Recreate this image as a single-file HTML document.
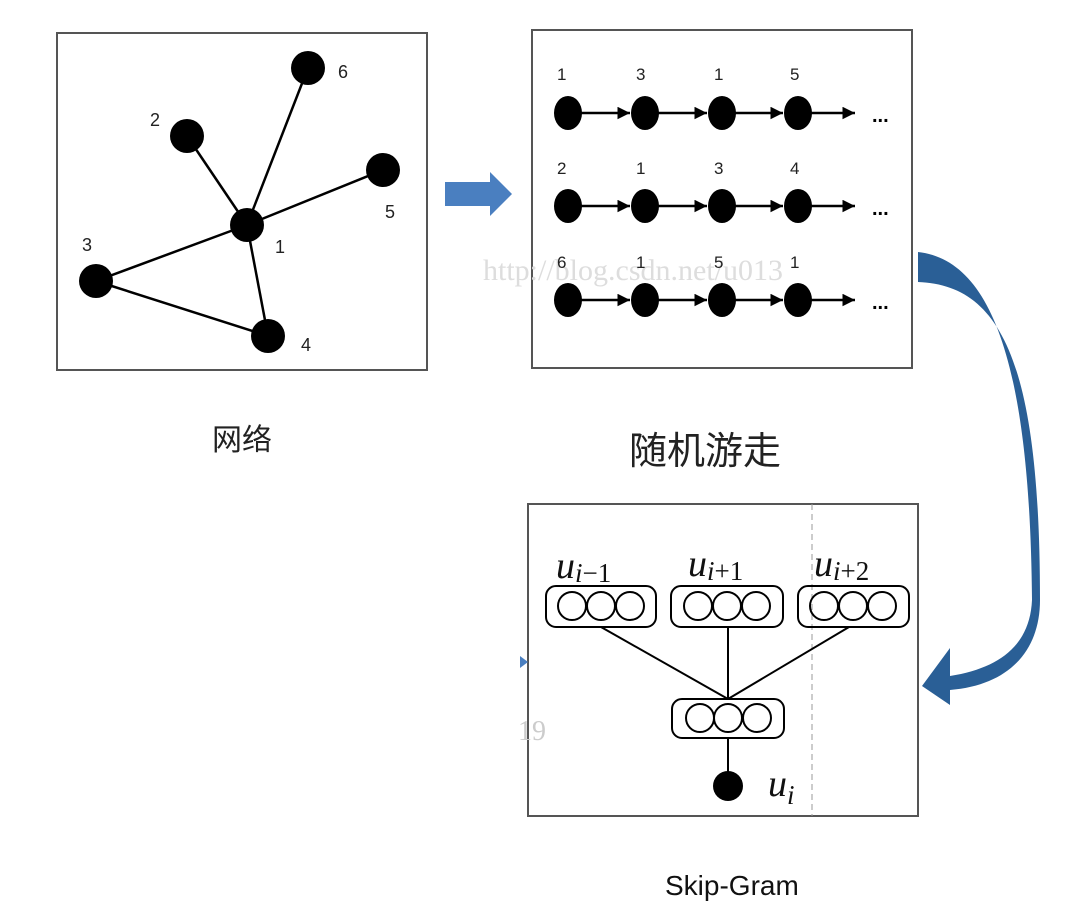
<!DOCTYPE html>
<html><head><meta charset="utf-8"><style>body{margin:0;background:#fff}svg{display:block}</style></head><body>
<svg width="1080" height="909" viewBox="0 0 1080 909" xmlns="http://www.w3.org/2000/svg" font-family="Liberation Sans, sans-serif">
<defs><marker id="a" viewBox="0 0 10 10" refX="10" refY="5" markerWidth="5" markerHeight="5" orient="auto"><path d="M0,0L10,5L0,10z" fill="#000"/></marker></defs>
<rect x="57" y="33" width="370" height="337" fill="none" stroke="#555" stroke-width="2"/>
<g stroke="#000" stroke-width="2.5">
<line x1="247" y1="225" x2="308" y2="68"/><line x1="247" y1="225" x2="187" y2="136"/><line x1="247" y1="225" x2="383" y2="170"/><line x1="247" y1="225" x2="96" y2="281"/><line x1="247" y1="225" x2="268" y2="336"/><line x1="96" y1="281" x2="268" y2="336"/></g>
<g fill="#000"><circle cx="308" cy="68" r="17"/><circle cx="187" cy="136" r="17"/><circle cx="383" cy="170" r="17"/><circle cx="247" cy="225" r="17"/><circle cx="96" cy="281" r="17"/><circle cx="268" cy="336" r="17"/></g>
<g font-size="18" fill="#222"><text x="338" y="78">6</text><text x="150" y="126">2</text><text x="385" y="218">5</text><text x="275" y="253">1</text><text x="82" y="251">3</text><text x="301" y="351">4</text></g>
<path d="M445,182H490V172L512,194L490,216V206H445z" fill="#4a7fc0"/>
<rect x="532" y="30" width="380" height="338" fill="none" stroke="#555" stroke-width="2"/>
<text x="483" y="280" font-family="Liberation Serif, serif" font-size="30" fill="#ddd">http://blog.csdn.net/u013</text>
<g font-size="17" fill="#222">
<text x="557" y="80">1</text><text x="636" y="80">3</text><text x="714" y="80">1</text><text x="790" y="80">5</text>
<text x="557" y="174">2</text><text x="636" y="174">1</text><text x="714" y="174">3</text><text x="790" y="174">4</text>
<text x="557" y="268">6</text><text x="636" y="268">1</text><text x="714" y="268">5</text><text x="790" y="268">1</text></g>
<g stroke="#000" stroke-width="2.5" fill="#000">
<g id="r"><line x1="580" y1="113" x2="630" y2="113" marker-end="url(#a)"/><line x1="657" y1="113" x2="707" y2="113" marker-end="url(#a)"/><line x1="734" y1="113" x2="783" y2="113" marker-end="url(#a)"/><line x1="810" y1="113" x2="855" y2="113" marker-end="url(#a)"/>
<ellipse cx="568" cy="113" rx="14" ry="17" stroke="none"/><ellipse cx="645" cy="113" rx="14" ry="17" stroke="none"/><ellipse cx="722" cy="113" rx="14" ry="17" stroke="none"/><ellipse cx="798" cy="113" rx="14" ry="17" stroke="none"/>
<text x="872" y="122" font-size="20" font-weight="bold" stroke="none">...</text></g>
<use href="#r" y="93"/><use href="#r" y="187"/></g>
<path d="M918,252C990,260 1030,360 1032,600C1030,645 1000,668 950,676L950,648L922,686L950,705L950,690C1010,685 1040,650 1040,600C1040,360 1000,285 918,282z" fill="#2a5f96"/>
<rect x="528" y="504" width="390" height="312" fill="none" stroke="#555" stroke-width="2"/>
<line x1="812" y1="504" x2="812" y2="816" stroke="#999" stroke-dasharray="6,4"/>
<text x="518" y="740" font-family="Liberation Serif, serif" font-size="28" fill="#ccc">19</text>
<path d="M520,656l8,6l-8,6z" fill="#4a7fc0"/>
<g stroke="#000" stroke-width="2" fill="none">
<rect x="546" y="586" width="110" height="41" rx="10"/><rect x="671" y="586" width="112" height="41" rx="10"/><rect x="798" y="586" width="111" height="41" rx="10"/><rect x="672" y="699" width="112" height="39" rx="10"/>
<circle cx="572" cy="606" r="14"/><circle cx="601" cy="606" r="14"/><circle cx="630" cy="606" r="14"/>
<circle cx="698" cy="606" r="14"/><circle cx="727" cy="606" r="14"/><circle cx="756" cy="606" r="14"/>
<circle cx="824" cy="606" r="14"/><circle cx="853" cy="606" r="14"/><circle cx="882" cy="606" r="14"/>
<circle cx="700" cy="718" r="14"/><circle cx="728" cy="718" r="14"/><circle cx="757" cy="718" r="14"/>
<line x1="601" y1="627" x2="728" y2="699"/><line x1="728" y1="627" x2="728" y2="699"/><line x1="849" y1="627" x2="728" y2="699"/><line x1="728" y1="738" x2="728" y2="772"/></g>
<circle cx="728" cy="786" r="15" fill="#000"/>
<g font-family="Liberation Serif, serif" font-style="italic" fill="#111">
<text x="556" y="578" font-size="38">u<tspan font-size="27" dy="4">i</tspan><tspan font-style="normal" font-size="27">−1</tspan></text>
<text x="688" y="576" font-size="38">u<tspan font-size="27" dy="4">i</tspan><tspan font-style="normal" font-size="27">+1</tspan></text>
<text x="814" y="576" font-size="38">u<tspan font-size="27" dy="4">i</tspan><tspan font-style="normal" font-size="27">+2</tspan></text>
<text x="768" y="796" font-size="38">u<tspan font-size="27" dy="8">i</tspan></text></g>
<text x="212" y="450" font-family="Liberation Sans, Noto Sans CJK SC, sans-serif" font-size="30" fill="#222">网络</text>
<text x="629" y="464" font-family="Liberation Sans, Noto Sans CJK SC, sans-serif" font-size="38" fill="#222">随机游走</text>
<text x="665" y="895" font-size="28" fill="#111">Skip-Gram</text>
</svg>
</body></html>
